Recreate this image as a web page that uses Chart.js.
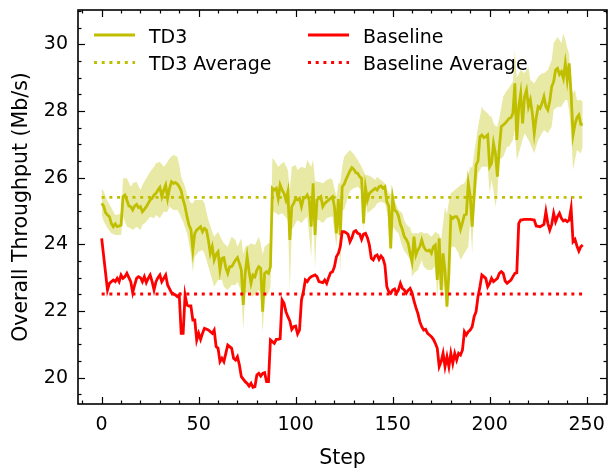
<!DOCTYPE html>
<html>
<head>
<meta charset="utf-8">
<script src="https://cdn.jsdelivr.net/npm/chart.js@4.4.1/dist/chart.umd.min.js"></script>
<style>
  html, body { margin: 0; padding: 0; background: #fff; }
  #chart { display: block; }
</style>
</head>
<body>
<canvas id="chart" width="610" height="469"></canvas>
<script>
/* TD3 vs Baseline overall throughput per step.
   Values. */

// TD3 mean, one value per step 0..248
const td3Mean = [
  25.23, 25.15, 24.95, 24.88, 24.83, 24.63, 24.53, 24.61, 24.53, 24.55,
  24.58, 25.43, 25.48, 25.33, 25.15, 25.13, 25.03, 25.15, 25.20, 25.10,
  25.13, 24.98, 25.05, 25.13, 25.23, 25.33, 25.38, 25.48, 25.53, 25.63,
  25.71, 25.43, 25.63, 25.78, 25.38, 25.68, 25.88, 25.83, 25.85, 25.81,
  25.73, 25.60, 25.33, 25.13, 24.83, 24.58, 24.45, 23.83, 24.33, 24.43,
  24.48, 24.53, 24.38, 24.48, 24.43, 24.13, 23.73, 23.93, 23.53, 23.70,
  23.78, 23.23, 23.58, 23.60, 23.30, 23.13, 23.33, 23.33, 23.43, 23.53,
  23.60, 23.43, 23.23, 22.18, 23.13, 23.63, 23.18, 22.83, 23.08, 23.03,
  23.23, 23.33, 23.28, 21.98, 23.13, 23.18, 23.13, 23.33, 25.68, 25.63,
  25.68, 25.38, 25.78, 25.63, 25.53, 25.33, 25.58, 24.13, 25.13, 25.23,
  25.38, 25.33, 25.38, 25.13, 25.38, 25.40, 25.48, 25.33, 24.53, 25.83,
  24.28, 25.33, 25.38, 25.43, 25.13, 25.23, 25.28, 25.33, 25.38, 25.43,
  25.13, 24.33, 25.36, 24.28, 25.73, 25.80, 25.95, 26.08, 26.20, 26.30,
  26.25, 26.15, 26.13, 26.03, 25.98, 24.63, 25.70, 25.33, 25.53, 25.58,
  25.63, 25.68, 25.63, 25.73, 25.75, 25.68, 25.73, 25.28, 25.15, 23.88,
  25.38, 25.03, 24.98, 24.85, 24.60, 24.45, 24.23, 24.15, 24.03, 23.73,
  23.48, 24.23, 23.68, 23.83, 23.93, 24.13, 23.93, 23.83, 23.80, 23.83,
  23.73, 23.93, 23.98, 22.93, 24.18, 22.63, 23.73, 23.20, 22.13, 23.13,
  24.83, 24.78, 24.83, 24.83, 24.73, 24.45, 24.65, 24.88, 24.90, 25.83,
  25.43, 24.53, 25.43, 26.38, 26.50, 27.23, 27.28, 27.20, 27.23, 27.28,
  26.33, 26.43, 27.03, 26.73, 26.03, 26.90, 27.53, 27.58, 27.63, 27.70,
  27.78, 27.80, 27.93, 28.83, 27.13, 28.13, 28.53, 27.63, 28.43, 28.63,
  28.13, 28.33, 27.93, 27.33, 27.80, 28.13, 28.08, 28.23, 28.43, 28.13,
  28.03, 28.30, 28.73, 28.88, 29.23, 29.28, 29.10, 29.18, 28.98, 29.43,
  28.93, 29.43, 28.50, 27.28, 27.60, 27.80, 27.88, 27.60, 27.60
];

// TD3 spread band (lower / upper edge)
const bandSteps = [
  0, 1, 3, 5, 7, 9, 10, 11, 13, 15, 16, 18, 20, 21, 23, 25, 27, 28, 30, 32,
  34, 35, 37, 39, 40, 41, 42, 43, 44, 45, 46, 47, 48, 50, 52, 53, 55, 57, 58, 60,
  62, 63, 65, 67, 69, 70, 72, 73, 74, 76, 77, 79, 81, 82, 83, 84, 86, 87, 88, 89,
  91, 93, 94, 96, 97, 98, 100, 101, 103, 105, 106, 108, 109, 110, 111, 112, 114, 116, 118, 119,
  121, 122, 123, 124, 125, 126, 128, 130, 132, 134, 135, 136, 137, 139, 141, 142, 144, 146, 148, 149,
  150, 151, 153, 155, 156, 157, 159, 160, 161, 163, 165, 166, 168, 170, 172, 173, 174, 175, 177, 178,
  179, 180, 182, 184, 185, 187, 189, 190, 191, 192, 194, 196, 197, 199, 200, 201, 202, 203, 204, 205,
  207, 209, 210, 212, 213, 214, 216, 218, 220, 221, 223, 225, 227, 228, 230, 232, 233, 235, 237, 238,
  239, 240, 241, 242, 243, 244, 245, 247, 248
];
const bandLower = [
  24.88, 24.70, 24.48, 24.33, 24.28, 24.28, 24.28, 24.83, 24.53, 24.48, 24.43, 24.53, 24.43, 24.58, 24.68, 24.83, 24.78, 24.88, 24.78, 24.98,
  24.98, 25.13, 25.03, 25.03, 24.93, 24.80, 24.68, 24.50, 24.33, 24.03, 23.70, 23.18, 23.63, 23.78, 23.83, 23.73, 23.33, 22.93, 22.73, 22.93,
  22.93, 22.73, 22.63, 22.78, 22.78, 22.88, 22.58, 21.43, 22.53, 22.58, 22.43, 22.48, 22.63, 22.53, 21.33, 22.38, 22.53, 22.73, 24.93, 24.98,
  24.88, 24.93, 24.88, 24.73, 22.63, 24.43, 24.63, 24.73, 24.63, 24.78, 24.83, 23.63, 25.13, 23.23, 24.73, 24.73, 24.63, 24.78, 24.83, 24.83,
  23.93, 24.63, 23.13, 25.03, 25.03, 25.23, 25.60, 25.68, 25.73, 25.63, 24.43, 25.23, 24.93, 25.03, 25.13, 25.23, 25.28, 25.23, 24.73, 23.73,
  24.53, 24.45, 24.33, 23.93, 23.80, 23.73, 23.53, 23.03, 23.13, 23.23, 23.53, 23.33, 23.23, 23.23, 23.33, 22.43, 23.13, 22.33, 22.93, 21.93,
  22.83, 23.93, 23.93, 23.73, 23.53, 23.73, 23.93, 24.73, 23.73, 25.13, 26.13, 26.33, 26.33, 26.33, 25.53, 25.93, 25.60, 25.13, 25.50, 26.53,
  26.63, 26.93, 26.93, 27.13, 27.43, 26.53, 26.93, 27.33, 27.13, 27.00, 26.73, 27.13, 27.33, 27.43, 27.33, 27.53, 28.03, 28.13, 28.13, 28.23,
  28.33, 28.33, 28.00, 27.33, 26.23, 26.53, 26.83, 26.73, 26.93
];
const bandUpper = [
  25.68, 25.60, 25.30, 25.10, 24.88, 24.90, 24.93, 25.98, 25.98, 25.73, 25.83, 25.88, 25.63, 25.78, 25.98, 26.18, 26.33, 26.43, 26.48, 26.33,
  26.48, 26.58, 26.68, 26.63, 26.38, 26.03, 25.88, 25.73, 25.50, 25.33, 25.25, 25.23, 25.33, 25.33, 25.33, 25.23, 24.73, 24.38, 24.23, 24.38,
  24.13, 24.03, 23.93, 24.23, 24.13, 23.93, 24.18, 23.70, 23.93, 23.98, 24.03, 23.98, 24.23, 24.03, 23.70, 23.93, 24.03, 24.03, 26.58, 26.53,
  26.33, 26.43, 26.48, 26.23, 25.60, 26.33, 26.38, 26.23, 26.33, 26.28, 26.53, 26.33, 26.53, 25.90, 25.88, 25.88, 25.83, 25.93, 25.98, 25.93,
  25.43, 25.83, 25.83, 26.33, 26.63, 26.70, 26.83, 26.70, 26.53, 26.33, 26.20, 26.08, 26.08, 26.03, 25.93, 26.03, 25.93, 25.83, 25.53, 25.50,
  25.63, 25.33, 25.03, 24.93, 24.73, 24.60, 24.50, 24.33, 24.33, 24.33, 24.38, 24.33, 24.33, 24.23, 24.38, 24.33, 24.30, 24.13, 25.13, 24.90,
  25.30, 25.53, 25.63, 25.73, 25.78, 25.83, 26.10, 26.33, 26.30, 26.73, 27.53, 28.13, 28.03, 27.93, 27.85, 27.83, 27.63, 27.55, 27.53, 27.80,
  28.43, 28.63, 28.70, 28.88, 29.83, 29.00, 29.23, 29.13, 29.33, 28.93, 28.83, 29.03, 29.13, 29.13, 29.23, 29.53, 30.03, 30.23, 30.03, 30.33,
  30.13, 29.90, 29.70, 28.73, 28.53, 28.63, 28.33, 28.33, 28.28
];

// Baseline
const baseSteps = [
  0, 3, 4, 6, 7, 8, 9, 10, 11, 12, 13, 15, 16, 17, 18, 19, 20, 21, 22, 23,
  24, 25, 26, 27, 28, 29, 30, 31, 32, 33, 34, 36, 38, 39, 40, 41, 42, 43, 44, 45,
  46, 47, 48, 49, 50, 51, 52, 53, 55, 57, 58, 59, 60, 61, 62, 63, 64, 65, 67, 68,
  69, 70, 71, 72, 74, 75, 76, 77, 78, 79, 80, 81, 82, 83, 84, 85, 86, 87, 88, 89,
  90, 91, 92, 93, 94, 95, 96, 97, 98, 99, 100, 101, 102, 103, 104, 105, 106, 107, 108, 110,
  111, 112, 114, 115, 116, 117, 118, 119, 120, 121, 122, 123, 124, 125, 126, 127, 128, 129, 130, 131,
  132, 133, 134, 135, 136, 137, 138, 139, 140, 141, 142, 143, 144, 145, 146, 147, 148, 149, 150, 151,
  152, 153, 154, 155, 156, 157, 158, 159, 160, 161, 162, 163, 164, 165, 166, 167, 168, 169, 170, 171,
  172, 173, 174, 175, 176, 177, 178, 179, 180, 181, 182, 183, 184, 185, 186, 187, 188, 189, 190, 191,
  192, 193, 194, 195, 196, 197, 198, 199, 200, 201, 202, 203, 204, 205, 206, 207, 208, 209, 210, 211,
  212, 213, 214, 215, 216, 218, 221, 223, 224, 226, 228, 229, 230, 231, 232, 233, 234, 235, 236, 237,
  238, 239, 240, 241, 242, 243, 244, 245, 246, 247, 248
];
const baseValues = [
  24.18, 22.63, 22.83, 22.93, 22.88, 22.98, 22.88, 23.08, 22.98, 23.03, 23.13, 22.88, 22.55, 22.78, 22.98, 23.03, 23.00, 22.88, 23.03, 22.85,
  22.98, 23.08, 22.88, 22.63, 22.88, 23.00, 23.08, 22.88, 22.98, 23.08, 22.78, 22.55, 22.48, 22.43, 22.48, 21.33, 21.33, 22.48, 22.18, 22.15,
  22.15, 21.73, 21.73, 21.13, 21.33, 21.15, 21.33, 21.48, 21.43, 21.33, 21.43, 20.93, 20.88, 20.48, 20.58, 20.48, 20.73, 20.98, 20.88, 20.58,
  20.53, 20.63, 20.38, 20.03, 19.88, 19.83, 19.75, 19.83, 19.71, 19.73, 20.08, 20.13, 20.05, 20.13, 20.15, 19.88, 19.88, 21.13, 21.08, 21.03,
  21.15, 21.15, 21.17, 22.33, 22.23, 21.98, 21.83, 21.70, 21.45, 21.53, 21.55, 21.31, 21.43, 22.33, 22.58, 22.93, 22.88, 22.98, 23.03, 23.08,
  23.03, 22.88, 22.85, 22.93, 22.83, 23.00, 23.15, 23.18, 23.33, 23.63, 23.73, 23.93, 24.38, 24.38, 24.35, 24.30, 24.08, 24.20, 24.38, 24.41,
  24.33, 24.31, 24.15, 24.31, 24.33, 24.20, 23.98, 23.58, 23.53, 23.65, 23.68, 23.55, 23.65, 23.58, 23.38, 22.73, 22.58, 22.53, 22.63, 22.66,
  22.53, 22.63, 22.83, 22.68, 22.63, 22.53, 22.62, 22.68, 22.55, 22.30, 22.10, 21.93, 21.68, 21.53, 21.43, 21.45, 21.33, 21.28, 21.23, 21.15,
  21.03, 20.88, 20.33, 20.48, 20.73, 20.33, 20.63, 20.33, 20.73, 20.43, 20.73, 20.53, 20.73, 20.68, 20.83, 21.38, 21.28, 21.38, 21.43, 21.53,
  21.83, 21.98, 22.43, 22.73, 23.08, 23.03, 22.98, 22.73, 22.83, 22.98, 22.88, 22.93, 22.98, 23.13, 23.18, 23.13, 22.90, 22.83, 22.88, 22.93,
  23.03, 23.13, 23.15, 24.63, 24.73, 24.75, 24.75, 24.73, 24.55, 24.53, 24.60, 24.98, 24.63, 24.43, 24.60, 24.93, 24.68, 24.83, 24.93, 24.78,
  24.70, 24.73, 24.68, 24.73, 25.08, 24.08, 24.15, 23.95, 23.80, 23.93, 23.98
];

// averages over the run
const td3Average = 25.41;
const baseAverage = 22.51;
const avgSpan = [0, 248];

const xTicks = [0, 50, 100, 150, 200, 250];
const yTicks = [20, 22, 24, 26, 28, 30];

const TD3_COLOR = "#bfbf00";
const BAND_COLOR = "rgba(191,191,0,0.35)";
const BASE_COLOR = "#ff0000";
const FONT = "'DejaVu Sans', 'Liberation Sans', sans-serif";
const DOTS = [3, 4.7];

function pts(xs, ys) { return xs.map((x, i) => ({ x, y: ys[i] })); }

// kill the label-overhang padding chart.js adds, so layout.padding is exact
function fixBox(w, h) {
  return s => {
    if (w != null) s.width = w;
    if (h != null) s.height = h;
    s.paddingTop = s.paddingBottom = s.paddingLeft = s.paddingRight = 0;
  };
}

const legendItems = [
  { text: "TD3", color: TD3_COLOR, dash: [] },
  { text: "TD3 Average", color: TD3_COLOR, dash: DOTS },
  { text: "Baseline", color: BASE_COLOR, dash: [] },
  { text: "Baseline Average", color: BASE_COLOR, dash: DOTS },
];

// inward ticks on all four sides + closed frame (science-style axes)
const frameTicks = {
  id: "frameTicks",
  afterDraw(chart) {
    const { ctx, chartArea: a, scales: { x, y } } = chart;
    ctx.save();
    ctx.strokeStyle = "#000";
    ctx.lineWidth = 1.2;
    const seg = (x1, y1, x2, y2) => { ctx.beginPath(); ctx.moveTo(x1, y1); ctx.lineTo(x2, y2); ctx.stroke(); };
    for (let v = -10; v <= 260; v += 10) {
      const px = Math.round(x.getPixelForValue(v)) + 0.5;
      if (px < a.left || px > a.right) continue;
      const len = xTicks.includes(v) ? 7 : 3.5;
      seg(px, a.bottom, px, a.bottom - len);
      seg(px, a.top, px, a.top + len);
    }
    for (let v = 19.5; v <= 31; v += 0.5) {
      const py = Math.round(y.getPixelForValue(v)) + 0.5;
      if (py < a.top || py > a.bottom) continue;
      const len = yTicks.includes(v) ? 7 : 3.5;
      seg(a.left, py, a.left + len, py);
      seg(a.right, py, a.right - len, py);
    }
    ctx.lineWidth = 1.6;
    ctx.strokeRect(a.left, a.top, a.right - a.left, a.bottom - a.top);
    ctx.restore();
  }
};

// two-column legend, no frame, upper left
const legendBox = {
  id: "legendBox",
  afterDraw(chart) {
    const { ctx } = chart;
    const cols = [94, 308];
    const rows = [35, 62.5];
    ctx.save();
    ctx.font = "19px " + FONT;
    ctx.textBaseline = "alphabetic";
    ctx.fillStyle = "#000";
    legendItems.forEach((it, i) => {
      const cx = cols[Math.floor(i / 2)];
      const cy = rows[i % 2];
      ctx.strokeStyle = it.color;
      ctx.lineWidth = 2.8;
      ctx.setLineDash(it.dash);
      ctx.beginPath();
      ctx.moveTo(cx, cy);
      ctx.lineTo(cx + 41, cy);
      ctx.stroke();
      ctx.setLineDash([]);
      ctx.fillText(it.text, cx + 55, cy + 7.5);
    });
    ctx.restore();
  }
};

const ctx = document.getElementById("chart");
new Chart(ctx, {
  type: "line",
  data: {
    datasets: [
      {
        label: "TD3 upper", data: pts(bandSteps, bandUpper),
        borderColor: "transparent", borderWidth: 0, fill: false, order: 10
      },
      {
        label: "TD3 lower", data: pts(bandSteps, bandLower),
        borderColor: "transparent", borderWidth: 0, backgroundColor: BAND_COLOR,
        fill: 0, order: 9
      },
      {
        label: "TD3", data: td3Mean.map((v, i) => ({ x: i, y: v })),
        borderColor: TD3_COLOR, borderWidth: 2.8, fill: false, order: 5
      },
      {
        label: "TD3 Average", data: pts(avgSpan, [td3Average, td3Average]),
        borderColor: TD3_COLOR, borderWidth: 2.8, borderDash: DOTS, fill: false, order: 4
      },
      {
        label: "Baseline", data: pts(baseSteps, baseValues),
        borderColor: BASE_COLOR, borderWidth: 2.8, fill: false, order: 3
      },
      {
        label: "Baseline Average", data: pts(avgSpan, [baseAverage, baseAverage]),
        borderColor: BASE_COLOR, borderWidth: 2.8, borderDash: DOTS, fill: false, order: 2
      }
    ]
  },
  options: {
    responsive: false,
    animation: false,
    devicePixelRatio: 1,
    layout: { padding: { top: 10, right: 3, left: 0, bottom: 0 } },
    elements: { point: { radius: 0 }, line: { tension: 0 } },
    plugins: { legend: { display: false }, tooltip: { enabled: false } },
    scales: {
      x: {
        type: "linear", min: -12.2, max: 260.5,
        afterFit: fixBox(null, 65),
        afterBuildTicks: s => { s.ticks = xTicks.map(v => ({ value: v })); },
        grid: { display: false, drawTicks: false },
        border: { display: false },
        ticks: { color: "#000", padding: 10, font: { family: FONT, size: 19 } },
        title: { display: true, text: "Step", color: "#000", font: { family: FONT, size: 20.5 }, padding: { top: 0, bottom: -2 } }
      },
      y: {
        type: "linear", min: 19.21, max: 31.03,
        afterFit: fixBox(78, null),
        afterBuildTicks: s => { s.ticks = yTicks.map(v => ({ value: v })); },
        grid: { display: false, drawTicks: false },
        border: { display: false },
        ticks: { color: "#000", padding: 10, font: { family: FONT, size: 19 } },
        title: { display: true, text: "Overall Throughput (Mb/s)", color: "#000", font: { family: FONT, size: 20.5 }, padding: { top: 9, bottom: 0 } }
      }
    }
  },
  plugins: [frameTicks, legendBox]
});
</script>
</body>
</html>
